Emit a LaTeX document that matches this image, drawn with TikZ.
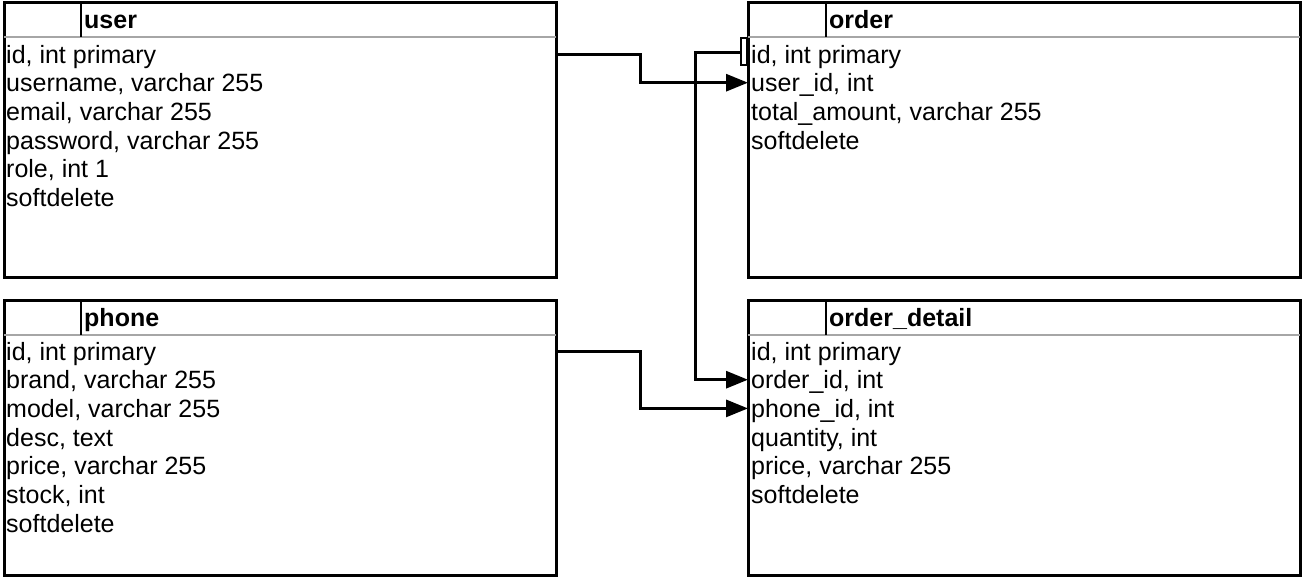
\documentclass[tikz,border=0pt]{standalone}
\usepackage{fontspec}
\setmainfont{Liberation Sans}
\usetikzlibrary{arrows.meta,calc}
\begin{document}
\begin{tikzpicture}[x=1pt,y=-1pt,
  tbl/.style={draw=black, line width=3pt, rectangle, minimum width=552pt, minimum height=275pt, anchor=north west, inner sep=0pt, outer sep=0pt},
  row/.style={anchor=west, inner sep=0pt, text height=20pt, text depth=2pt, font=\fontsize{25}{28}\selectfont},
  ttl/.style={row, font=\fontsize{25}{28}\selectfont\bfseries},
  hdr/.style={draw=gray!70, line width=1.6pt},
  sep/.style={draw=black, line width=1.6pt},
  conn/.style={draw=black, line width=3pt},
  arr/.style={conn, -{Triangle[length=22pt,width=17pt]}},
]
\useasboundingbox (0,0) rectangle (1305,579);

% ---------- user ----------
\node[tbl] (user) at (4,2) {};
\draw[hdr] ([yshift=-35pt]user.north west) -- ([yshift=-35pt]user.north east);
\draw[sep] ([xshift=77pt]user.north west) -- ([xshift=77pt,yshift=-35pt]user.north west);
\node[ttl] (user-t) at ([xshift=80pt,yshift=-17pt]user.north west) {user};
\node[row] (user-1) at ([xshift=2pt,yshift=-52pt]user.north west) {id, int primary};
\node[row] (user-2) at ([yshift=-28.7pt]user-1.west) {username, varchar 255};
\node[row] (user-3) at ([yshift=-28.7pt]user-2.west) {email, varchar 255};
\node[row] (user-4) at ([yshift=-28.7pt]user-3.west) {password, varchar 255};
\node[row] (user-5) at ([yshift=-28.7pt]user-4.west) {role, int 1};
\node[row] (user-6) at ([yshift=-28.7pt]user-5.west) {softdelete};

% ---------- order ----------
\node[tbl] (order) at (748,2) {};
\draw[hdr] ([yshift=-35pt]order.north west) -- ([yshift=-35pt]order.north east);
\draw[sep] ([xshift=78pt]order.north west) -- ([xshift=78pt,yshift=-35pt]order.north west);
\node[ttl] (order-t) at ([xshift=81pt,yshift=-17pt]order.north west) {order};
\node[row] (order-1) at ([xshift=3pt,yshift=-52pt]order.north west) {id, int primary};
\node[row] (order-2) at ([yshift=-28.7pt]order-1.west) {user\_id, int};
\node[row] (order-3) at ([yshift=-28.7pt]order-2.west) {total\_amount, varchar 255};
\node[row] (order-4) at ([yshift=-28.7pt]order-3.west) {softdelete};

% ---------- phone ----------
\node[tbl] (phone) at (4,300) {};
\draw[hdr] ([yshift=-35pt]phone.north west) -- ([yshift=-35pt]phone.north east);
\draw[sep] ([xshift=77pt]phone.north west) -- ([xshift=77pt,yshift=-35pt]phone.north west);
\node[ttl] (phone-t) at ([xshift=80pt,yshift=-17pt]phone.north west) {phone};
\node[row] (phone-1) at ([xshift=2pt,yshift=-51pt]phone.north west) {id, int primary};
\node[row] (phone-2) at ([yshift=-28.7pt]phone-1.west) {brand, varchar 255};
\node[row] (phone-3) at ([yshift=-28.7pt]phone-2.west) {model, varchar 255};
\node[row] (phone-4) at ([yshift=-28.7pt]phone-3.west) {desc, text};
\node[row] (phone-5) at ([yshift=-28.7pt]phone-4.west) {price, varchar 255};
\node[row] (phone-6) at ([yshift=-28.7pt]phone-5.west) {stock, int};
\node[row] (phone-7) at ([yshift=-28.7pt]phone-6.west) {softdelete};

% ---------- order_detail ----------
\node[tbl] (detail) at (748,300) {};
\draw[hdr] ([yshift=-35pt]detail.north west) -- ([yshift=-35pt]detail.north east);
\draw[sep] ([xshift=78pt]detail.north west) -- ([xshift=78pt,yshift=-35pt]detail.north west);
\node[ttl] (detail-t) at ([xshift=81pt,yshift=-17pt]detail.north west) {order\_detail};
\node[row] (detail-1) at ([xshift=3pt,yshift=-51pt]detail.north west) {id, int primary};
\node[row] (detail-2) at ([yshift=-28.7pt]detail-1.west) {order\_id, int};
\node[row] (detail-3) at ([yshift=-28.7pt]detail-2.west) {phone\_id, int};
\node[row] (detail-4) at ([yshift=-28.7pt]detail-3.west) {quantity, int};
\node[row] (detail-5) at ([yshift=-28.7pt]detail-4.west) {price, varchar 255};
\node[row] (detail-6) at ([yshift=-28.7pt]detail-5.west) {softdelete};

% ---------- connectors ----------
\draw[arr] (user.east |- user-1.west) -- ++(84,0) |- (order.west |- order-2.west);
\draw[sep] ($(order.west |- order-1.west)+(-7,-16)$) rectangle ($(order.west |- order-1.west)+(-1,11)$);
\draw[arr] ($(order.west |- order-1.west)+(-7,-2)$) -- ++(-46,0) |- (detail.west |- detail-2.west);
\draw[arr] (phone.east |- phone-1.west) -- ++(84,0) |- (detail.west |- detail-3.west);
\end{tikzpicture}
\end{document}
